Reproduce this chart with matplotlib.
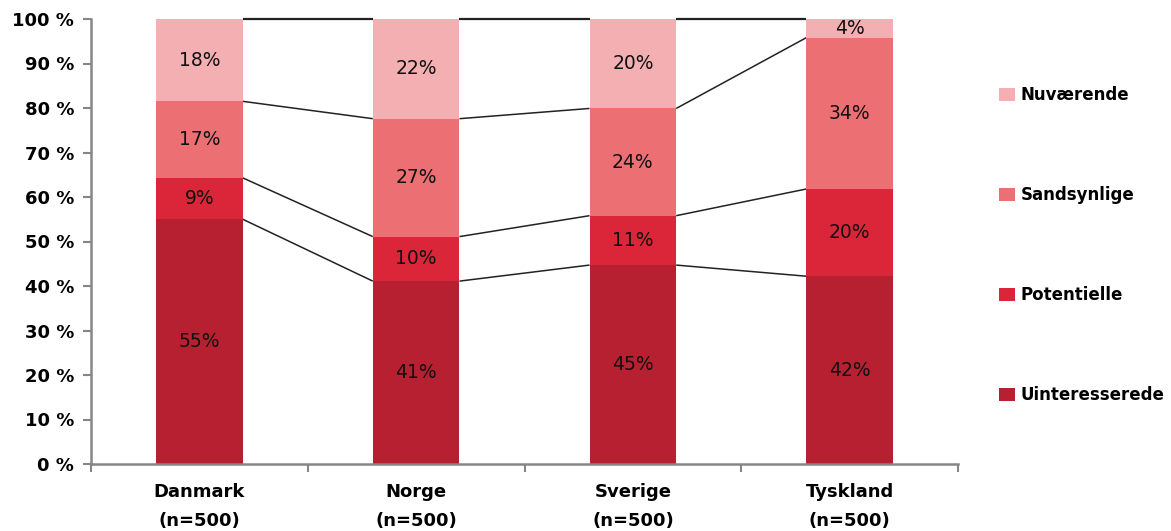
import matplotlib.pyplot as plt
import numpy as np
from matplotlib.patches import Patch

# data (share of respondents, %)
countries = ["Danmark\n(n=500)", "Norge\n(n=500)", "Sverige\n(n=500)", "Tyskland\n(n=500)"]
series_names = ["Uinteresserede", "Potentielle", "Sandsynlige", "Nuværende"]
uinteresserede = [55.0, 41.1, 44.7, 42.2]
potentielle = [9.3, 10.0, 11.1, 19.6]
sandsynlige = [17.2, 26.5, 24.1, 34.0]
nuvaerende = [18.5, 22.4, 20.1, 4.2]
labels = [["55%", "41%", "45%", "42%"],
          ["9%", "10%", "11%", "20%"],
          ["17%", "27%", "24%", "34%"],
          ["18%", "22%", "20%", "4%"]]
colors = ["#b72030", "#da2638", "#ec6f74", "#f4afb2"]

values = np.array([uinteresserede, potentielle, sandsynlige, nuvaerende])
# normalise to 100 %
values = values / values.sum(axis=0) * 100.0

fig = plt.figure(figsize=(11.71, 5.31), dpi=100)
ax = fig.add_axes([91 / 1171, 67 / 531, (958 - 91) / 1171, (464 - 19) / 531])

x = np.arange(len(countries))
width = 0.4
bottom = np.zeros(len(countries))
for i, name in enumerate(series_names):
    ax.bar(x, values[i], width, bottom=bottom, color=colors[i], label=name, zorder=2)
    for j in range(len(countries)):
        ax.text(x[j], bottom[j] + values[i][j] / 2, labels[i][j], ha="center", va="center",
                fontsize=13.5, color="#111111", zorder=3)
    bottom = bottom + values[i]
    # series lines between the bars
    lw = 1.6 if i == len(series_names) - 1 else 1.1
    for j in range(len(countries) - 1):
        ax.plot([x[j] + width / 2, x[j + 1] - width / 2], [bottom[j], bottom[j + 1]],
                color="#222222", lw=lw, zorder=1, solid_capstyle="butt", clip_on=False)

ax.set_xlim(-0.5, len(countries) - 0.5)
ax.set_ylim(0, 100)
ax.set_yticks(np.arange(0, 101, 10))
ax.set_yticklabels([f"{v} %" for v in range(0, 101, 10)], fontsize=13, fontweight="bold")
ax.set_xticks(x)
ax.set_xticklabels(countries, fontsize=13, fontweight="bold", linespacing=1.75)
ax.set_xticks(np.arange(-0.5, len(countries)), minor=True)
ax.tick_params(axis="x", which="major", length=0, pad=14)
ax.tick_params(axis="x", which="minor", length=6, width=1.5, color="#868686", direction="out")
ax.tick_params(axis="y", length=6, width=1.5, color="#868686", direction="out", pad=6)

for side in ["top", "right"]:
    ax.spines[side].set_visible(False)
for side in ["left", "bottom"]:
    ax.spines[side].set_color("#868686")
    ax.spines[side].set_linewidth(1.8)
ax.spines["left"].set_zorder(4)

handles = [Patch(facecolor=colors[i], edgecolor="none") for i in range(len(series_names))][::-1]
fig.legend(handles, series_names[::-1], loc="center left", bbox_to_anchor=(992 / 1171, 0.5385),
           frameon=False, prop={"size": 12, "weight": "bold"}, labelspacing=4.92,
           handlelength=1.0, handleheight=0.85, handletextpad=0.3, borderaxespad=0)

fig.savefig("out.png", dpi=100)
